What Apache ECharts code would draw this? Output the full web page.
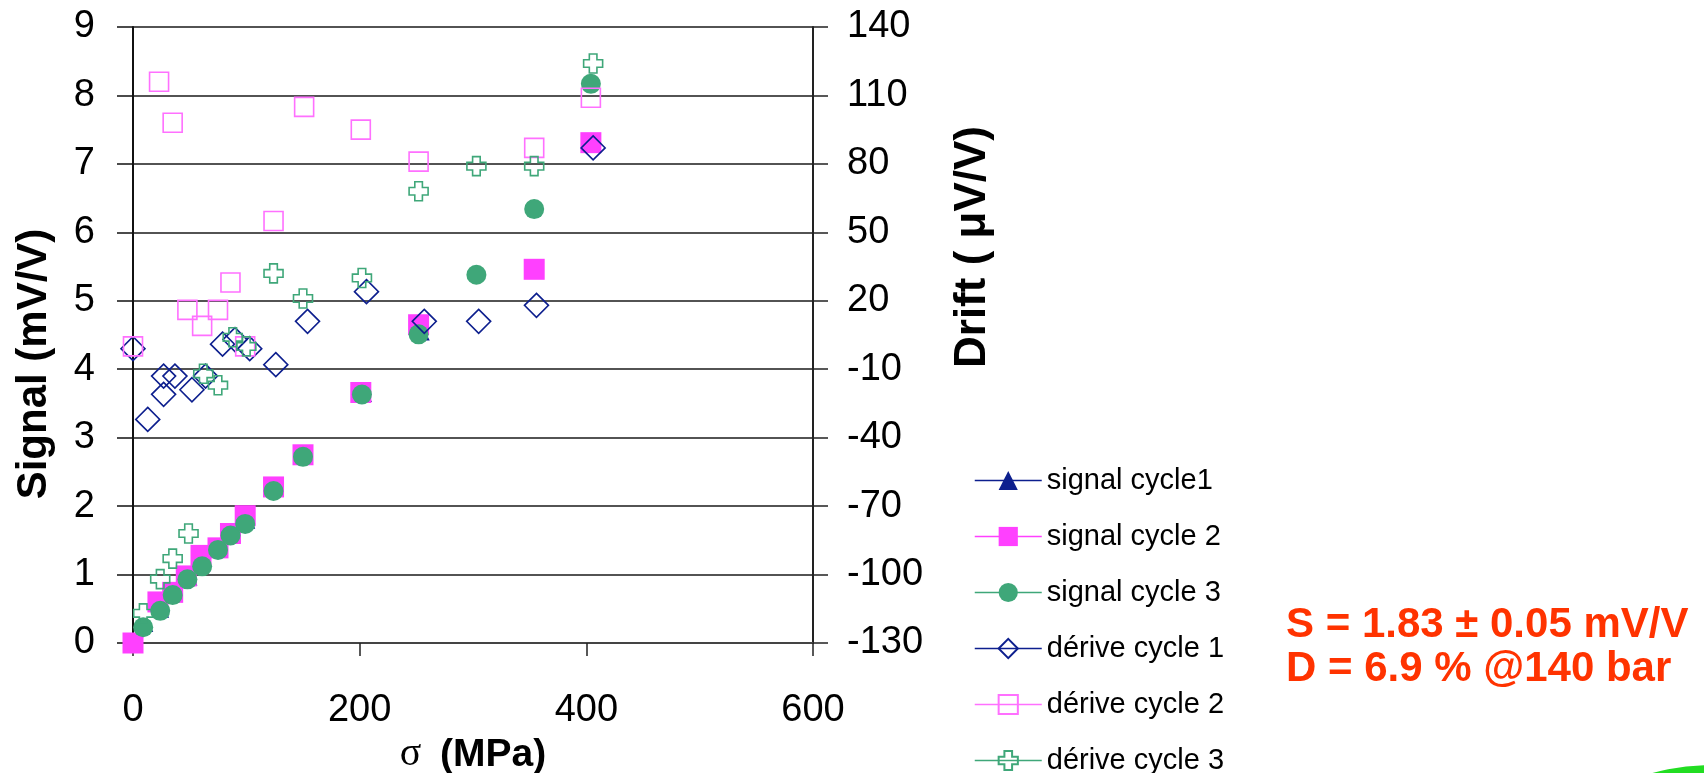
<!DOCTYPE html>
<html>
<head>
<meta charset="utf-8">
<script src="https://cdn.jsdelivr.net/npm/echarts@6/dist/echarts.min.js"></script>
<style>
  html, body { margin: 0; padding: 0; background: #ffffff; }
  #chart { width: 1704px; height: 773px; }
</style>
</head>
<body>
<div id="chart"></div>
<script>
// Applied stress (MPa) and bridge output (mV/V) for the three load cycles
const sigmaSignal1 = [0, 13, 27, 37, 52, 64, 79, 90, 103, 126, 154, 206, 257, 305, 356, 406];
const signal1      = [0, 0.24, 0.45, 0.68, 0.92, 1.13, 1.36, 1.56, 1.75, 2.22, 2.70, 3.60, 4.50, 5.37, 6.33, 7.25];

const sigmaSignal2 = [0, 22, 35, 47, 60, 75, 86, 99, 124, 150, 201, 252, 354, 404];
const signal2      = [0, 0.60, 0.74, 0.98, 1.28, 1.39, 1.60, 1.86, 2.28, 2.75, 3.66, 4.65, 5.46, 7.31];

const sigmaSignal3 = [9, 24, 35, 48, 61, 75, 86, 99, 124, 150, 202, 252, 303, 354, 404];
const signal3      = [0.23, 0.47, 0.70, 0.93, 1.12, 1.36, 1.57, 1.74, 2.22, 2.72, 3.63, 4.51, 5.38, 6.34, 8.17];

// Zero drift (µV/V) for the same cycles
const sigmaDrift1 = [0, 13, 27, 27, 37, 52, 64, 79, 90, 103, 126, 154, 206, 257, 305, 356, 406];
const drift1      = [-1, -32, -13, -21, -13, -19, -13, 1, 3, -1, -8, 11, 24, 11, 11, 18, 87];

const sigmaDrift2 = [0, 23, 35, 48, 61, 75, 86, 99, 124, 151, 201, 252, 354, 404];
const drift2      = [0, 116, 98, 16, 9, 16, 28, 0, 55, 105, 95, 81, 87, 109];

const sigmaDrift3 = [9, 24, 35, 49, 62, 75, 88, 100, 124, 150, 202, 252, 303, 354, 406];
const drift3      = [-117, -102, -93, -82, -12, -17, 4, 0, 32, 21, 30, 68, 79, 79, 124];

// Axis ticks
const sigmaTicks  = [0, 200, 400, 600];
const signalTicks = [0, 1, 2, 3, 4, 5, 6, 7, 8, 9];
const driftTicks  = [-130, -100, -70, -40, -10, 20, 50, 80, 110, 140];

const seriesNames = ['signal cycle1', 'signal cycle 2', 'signal cycle 3',
                     'dérive cycle 1', 'dérive cycle 2', 'dérive cycle 3'];

const NAVY = '#0d1f8e';
const PINK = '#ff40ff';
const PINK_LIGHT = '#ff70ff';
const GREEN = '#3fa779';
const SANS = "'Liberation Sans', Arial, sans-serif";

// Pick a narrow face for the legend if one is installed
function fontInstalled(name) {
  const ctx = document.createElement('canvas').getContext('2d');
  const sample = 'signal cycle dérive 123';
  ctx.font = '40px monospace';
  const base = ctx.measureText(sample).width;
  ctx.font = `40px "${name}", monospace`;
  return ctx.measureText(sample).width !== base;
}
const narrow = fontInstalled('Liberation Sans Narrow');
const legendFont = narrow ? "'Liberation Sans Narrow', sans-serif" : SANS;
const legendSize = narrow ? 34 : 29;

// Outlined "plus" marker used for the third drift cycle
const plusMarker = 'path://M3,0L7,0L7,3L10,3L10,7L7,7L7,10L3,10L3,7L0,7L0,3L3,3Z';

function pairs(xs, ys) { return xs.map((x, i) => [x, ys[i]]); }

function makeSeries(name, xs, ys, axisIndex, symbol, size, fill, stroke) {
  const hollow = fill === 'transparent';
  return {
    name: name,
    type: 'line',
    yAxisIndex: axisIndex,
    data: pairs(xs, ys),
    symbol: symbol,
    symbolSize: size,
    showSymbol: true,
    showAllSymbol: true,
    clip: false,
    silent: true,
    lineStyle: { color: stroke, width: 1.5, opacity: 0 },
    itemStyle: { color: fill, borderColor: stroke, borderWidth: hollow ? 1.6 : 0, opacity: 1 },
    emphasis: { disabled: true }
  };
}

const chart = echarts.init(document.getElementById('chart'), null, { renderer: 'canvas' });

chart.setOption({
  animation: false,
  backgroundColor: '#ffffff',
  textStyle: { fontFamily: SANS },
  grid: { left: 133, right: 891, top: 27, bottom: 130, containLabel: false, outerBoundsMode: 'none' },
  legend: {
    orient: 'vertical',
    left: 974,
    top: 466,
    height: 420,
    padding: 0,
    itemWidth: 67,
    itemHeight: 24,
    itemGap: 27,
    selectedMode: false,
    data: seriesNames,
    lineStyle: { width: 1.5, opacity: 1 },
    textStyle: { fontFamily: legendFont, fontSize: legendSize, color: '#000000' }
  },
  xAxis: {
    type: 'value',
    min: sigmaTicks[0],
    max: sigmaTicks[sigmaTicks.length - 1],
    interval: sigmaTicks[1] - sigmaTicks[0],
    axisLine: { show: true, onZero: false, lineStyle: { color: '#444444', width: 2 } },
    axisTick: { show: true, inside: false, length: 13, lineStyle: { color: '#222222', width: 1.5 } },
    axisLabel: { fontSize: 38, color: '#000000', margin: 49, fontFamily: SANS },
    splitLine: { show: false },
    name: '{s|σ}{b| (MPa)}',
    nameLocation: 'middle',
    nameGap: 78,
    nameTextStyle: {
      rich: {
        s: { fontFamily: "'Liberation Serif', serif", fontSize: 40, color: '#000000', padding: [0, 8, 0, 0] },
        b: { fontFamily: SANS, fontSize: 39, fontWeight: 'bold', color: '#000000' }
      }
    }
  },
  yAxis: [
    {
      type: 'value',
      position: 'left',
      min: signalTicks[0],
      max: signalTicks[signalTicks.length - 1],
      interval: 1,
      axisLine: { show: true, lineStyle: { color: '#111111', width: 2 } },
      axisTick: { show: true, inside: false, length: 16, lineStyle: { color: '#111111', width: 1.5 } },
      axisLabel: { fontSize: 38, color: '#000000', margin: 38, fontFamily: SANS },
      splitLine: { show: true, lineStyle: { color: '#1a1a1a', width: 1.5 } },
      name: 'Signal (mV/V)',
      nameLocation: 'middle',
      nameGap: 78,
      nameTextStyle: { fontSize: 42, fontWeight: 'bold', color: '#000000', fontFamily: SANS, padding: [0, 58, 0, 0] }
    },
    {
      type: 'value',
      position: 'right',
      min: driftTicks[0],
      max: driftTicks[driftTicks.length - 1],
      axisLine: { show: true, lineStyle: { color: '#222222', width: 2 } },
      axisTick: { show: true, inside: false, length: 15, customValues: driftTicks, lineStyle: { color: '#222222', width: 1.5 } },
      axisLabel: { fontSize: 38, color: '#000000', margin: 34, fontFamily: SANS, customValues: driftTicks },
      splitLine: { show: false },
      name: 'Drift ( μV/V)',
      nameLocation: 'middle',
      nameGap: 138,
      nameTextStyle: { fontSize: 44, fontWeight: 'bold', color: '#000000', fontFamily: SANS, padding: [0, 0, 0, 176] }
    }
  ],
  series: [
    makeSeries(seriesNames[0], sigmaSignal1, signal1, 0, 'triangle', 11, NAVY, NAVY),
    makeSeries(seriesNames[1], sigmaSignal2, signal2, 0, 'rect', 21, PINK, PINK),
    makeSeries(seriesNames[2], sigmaSignal3, signal3, 0, 'circle', 20, GREEN, GREEN),
    makeSeries(seriesNames[3], sigmaDrift1, drift1, 1, 'diamond', 24, 'transparent', NAVY),
    makeSeries(seriesNames[4], sigmaDrift2, drift2, 1, 'rect', 19, 'transparent', PINK_LIGHT),
    makeSeries(seriesNames[5], sigmaDrift3, drift3, 1, plusMarker, 19, 'transparent', GREEN)
  ],
  graphic: [
    {
      type: 'text',
      x: 1286, y: 625,
      style: { text: 'S = 1.83 ± 0.05 mV/V', fontFamily: SANS, fontSize: 42, fontWeight: 'bold', fill: '#ff3300', verticalAlign: 'middle', align: 'left' }
    },
    {
      type: 'text',
      x: 1286, y: 669,
      style: { text: 'D = 6.9 % @140 bar', fontFamily: SANS, fontSize: 42, fontWeight: 'bold', fill: '#ff3300', verticalAlign: 'middle', align: 'left' }
    },
    {
      type: 'circle',
      shape: { cx: 1712, cy: 990, r: 225 },
      style: { fill: '#22dd22' },
      silent: true
    }
  ]
});
</script>
</body>
</html>
